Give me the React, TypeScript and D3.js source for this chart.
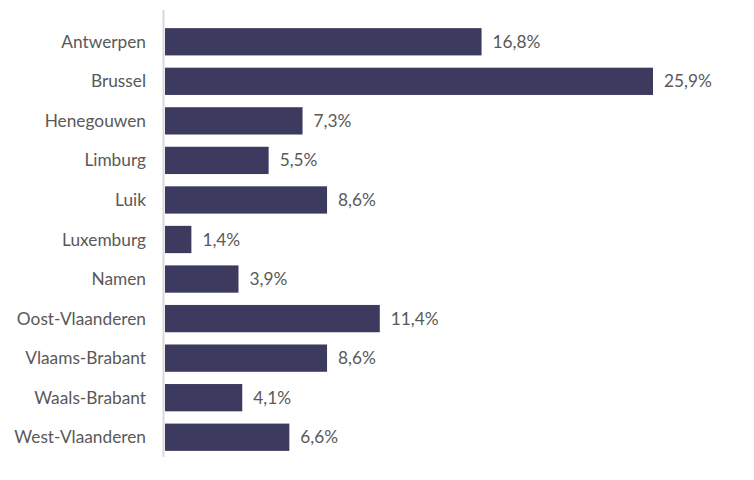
import React, { useEffect, useRef } from 'react'
import * as d3 from 'd3'

const provinces = [
  'Antwerpen',
  'Brussel',
  'Henegouwen',
  'Limburg',
  'Luik',
  'Luxemburg',
  'Namen',
  'Oost-Vlaanderen',
  'Vlaams-Brabant',
  'Waals-Brabant',
  'West-Vlaanderen',
]
const shares = [16.8, 25.9, 7.3, 5.5, 8.6, 1.4, 3.9, 11.4, 8.6, 4.1, 6.6]

export default function App() {
  const svgRef = useRef<SVGSVGElement>(null)
  const width = 754
  const height = 480

  useEffect(() => {
    if (!svgRef.current) return
    const svg = d3.select(svgRef.current)
    svg.selectAll('*').remove()

    const x0 = 165
    const x = d3.scaleLinear().domain([0, 25.9]).range([x0, 653])
    const y = d3.scaleBand<string>()
      .domain(provinces)
      .range([22, 457])
      .paddingInner(0.31)
      .paddingOuter(0.155)

    const font = 'Lato, "Open Sans", sans-serif'

    // bars
    svg.append('g')
      .selectAll('rect')
      .data(provinces)
      .enter()
      .append('rect')
      .attr('x', x0)
      .attr('y', d => y(d)!)
      .attr('width', (d, i) => x(shares[i]) - x0)
      .attr('height', y.bandwidth())
      .attr('fill', '#3c3a5f')

    // value labels
    svg.append('g')
      .selectAll('text')
      .data(provinces)
      .enter()
      .append('text')
      .attr('x', (d, i) => x(shares[i]) + 11)
      .attr('y', d => y(d)! + y.bandwidth() / 2)
      .attr('dy', '0.35em')
      .attr('font-family', font)
      .attr('font-size', 17.3)
      .attr('fill', '#595959')
      .text((d, i) => shares[i].toFixed(1).replace('.', ',') + '%')

    // category labels
    svg.append('g')
      .selectAll('text')
      .data(provinces)
      .enter()
      .append('text')
      .attr('x', 146)
      .attr('y', d => y(d)! + y.bandwidth() / 2)
      .attr('dy', '0.35em')
      .attr('text-anchor', 'end')
      .attr('font-family', font)
      .attr('font-size', 17.3)
      .attr('fill', '#595959')
      .text(d => d)

    // axis line
    svg.append('line')
      .attr('x1', 163.5)
      .attr('x2', 163.5)
      .attr('y1', 10)
      .attr('y2', 457)
      .attr('stroke', '#d9d9d9')
      .attr('stroke-width', 2)
  }, [])

  return (
    <svg
      ref={svgRef}
      width={width}
      height={height}
      style={{ position: 'absolute', left: 0, top: 0, background: '#fff' }}
    />
  )
}
